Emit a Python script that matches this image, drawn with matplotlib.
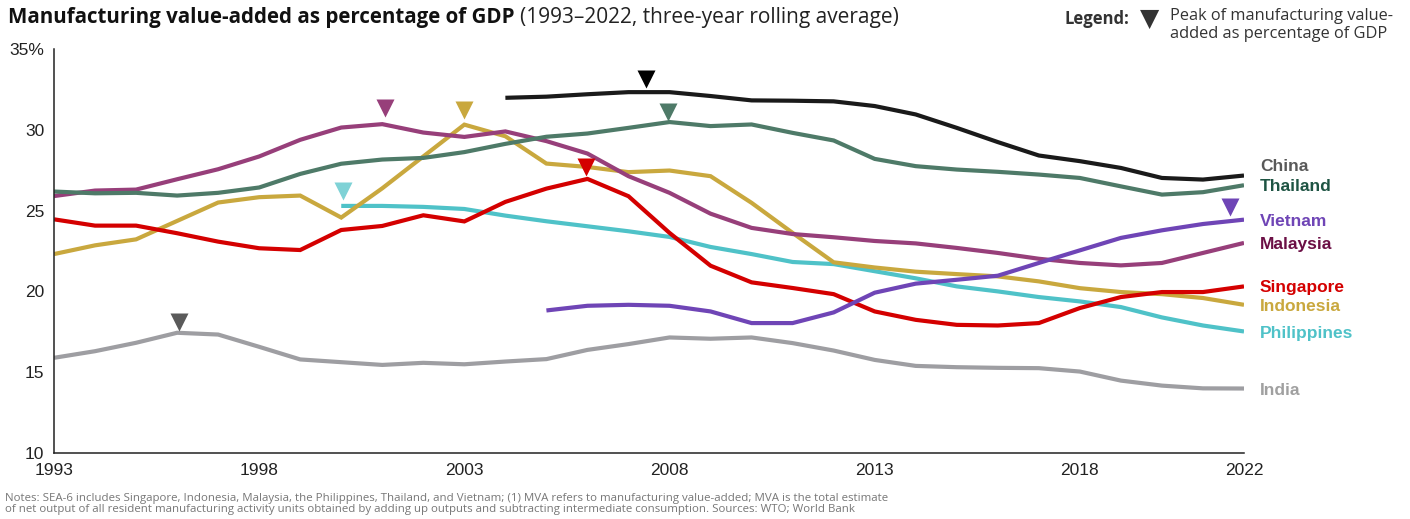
import numpy as np
import matplotlib.pyplot as plt

plt.rcParams['font.family'] = ['Liberation Sans', 'DejaVu Sans']

# data (MVA as % of GDP)
yrs_full = np.arange(1993, 2023)
yrs_china = np.arange(2004, 2023)
yrs_phil = np.arange(2000, 2023)
yrs_viet = np.arange(2005, 2023)

china = [31.98, 32.05, 32.2, 32.33, 32.33, 32.09, 31.82, 31.8, 31.76, 31.47,
         30.95, 30.12, 29.24, 28.41, 28.06, 27.64, 27.02, 26.92, 27.17]
thailand = [26.18, 26.07, 26.1, 25.93, 26.1, 26.43, 27.27, 27.9, 28.16, 28.26,
            28.62, 29.13, 29.57, 29.77, 30.12, 30.48, 30.23, 30.33, 29.81, 29.34,
            28.2, 27.75, 27.54, 27.4, 27.23, 27.02, 26.5, 25.99, 26.14, 26.57]
malaysia = [25.9, 26.24, 26.3, 26.94, 27.56, 28.35, 29.38, 30.14, 30.35, 29.83,
            29.56, 29.9, 29.3, 28.53, 27.13, 26.1, 24.81, 23.93, 23.55, 23.35,
            23.12, 22.97, 22.69, 22.38, 22.02, 21.76, 21.61, 21.76, 22.38, 23.0]
indonesia = [22.31, 22.85, 23.22, 24.36, 25.5, 25.83, 25.93, 24.57, 26.38, 28.35,
             30.32, 29.6, 27.91, 27.7, 27.38, 27.48, 27.13, 25.48, 23.62, 21.8,
             21.48, 21.22, 21.07, 20.93, 20.62, 20.2, 19.96, 19.83, 19.59, 19.17]
singapore = [24.46, 24.07, 24.07, 23.6, 23.08, 22.67, 22.56, 23.8, 24.05, 24.71,
             24.33, 25.54, 26.36, 26.96, 25.89, 23.62, 21.59, 20.56, 20.21, 19.83,
             18.76, 18.24, 17.93, 17.89, 18.04, 18.97, 19.65, 19.96, 19.96, 20.31]
philippines = [25.29, 25.29, 25.23, 25.1, 24.69, 24.34, 24.03, 23.72, 23.37, 22.75,
               22.31, 21.82, 21.69, 21.25, 20.81, 20.31, 20.0, 19.65, 19.38, 19.03,
               18.39, 17.89, 17.52]
vietnam = [18.82, 19.11, 19.17, 19.11, 18.76, 18.04, 18.04, 18.7, 19.92, 20.48,
           20.72, 20.97, 21.76, 22.54, 23.31, 23.78, 24.17, 24.44]
india = [15.89, 16.3, 16.82, 17.44, 17.33, 16.57, 15.79, 15.62, 15.45, 15.58,
         15.49, 15.66, 15.81, 16.38, 16.74, 17.15, 17.07, 17.15, 16.8, 16.34,
         15.76, 15.39, 15.31, 15.27, 15.25, 15.04, 14.48, 14.17, 14.0, 13.99]

names = ['India', 'Philippines', 'Indonesia', 'Singapore', 'Malaysia',
         'Vietnam', 'Thailand', 'China']
xs = [yrs_full, yrs_phil, yrs_full, yrs_full, yrs_full, yrs_viet, yrs_full, yrs_china]
ys = [india, philippines, indonesia, singapore, malaysia, vietnam, thailand, china]
line_colors = ['#9e9ea2', '#4fc2c8', '#c9a83e', '#d40000', '#973f7a',
               '#6f45b6', '#4e7a68', '#1a1a1a']
label_colors = ['#a0a0a0', '#4fc2c8', '#c9a83e', '#d40000', '#6b0f45',
                '#6f45b6', '#1e5443', '#595959']
label_y = [13.87, 17.4, 19.07, 20.25, 22.91, 24.34, 26.5, 27.74]

# peak markers (position of the triangle)
peak_x = [1996.05, 2000.05, 2003.0, 2005.97, 2001.06, 2021.65, 2007.96, 2007.42]
peak_y = [18.13, 26.23, 31.2, 27.7, 31.35, 25.22, 31.1, 33.17]
peak_colors = ['#5a5a5a', '#7fd2d6', '#c9a83e', '#d40000', '#973f7a',
               '#6f45b6', '#4e7a68', '#000000']

fig = plt.figure(figsize=(14.1, 5.19), dpi=100)
ax = fig.add_axes([54/1410, 66/519, 1190/1410, 404/519])

for x, y, c in zip(xs, ys, line_colors):
    ax.plot(x, y, color=c, lw=3, solid_capstyle='butt', solid_joinstyle='miter')
for px, py, c in zip(peak_x, peak_y, peak_colors):
    ax.plot(px, py, marker='v', ms=13, color=c, mec='none', clip_on=False)
for n, ly, c in zip(names, label_y, label_colors):
    ax.text(2022.39, ly, n, color=c, fontsize=12.5, fontweight='bold',
            va='center', ha='left', clip_on=False)

ax.set_xlim(1993, 2022)
ax.set_ylim(10, 35)
ax.set_xticks([1993, 1998, 2003, 2008, 2013, 2018, 2022])
ax.set_yticks([10, 15, 20, 25, 30, 35])
ax.set_yticklabels(['10', '15', '20', '25', '30', '35%'])
ax.tick_params(length=0, labelsize=12.5, colors='#222222')
ax.tick_params(axis='x', pad=7)
ax.tick_params(axis='y', pad=7)
for s in ['top', 'right']:
    ax.spines[s].set_visible(False)
for s in ['left', 'bottom']:
    ax.spines[s].set_color('#222222')
    ax.spines[s].set_linewidth(1.1)

# title
t1 = fig.text(8/1410, 1 - 18/519, 'Manufacturing value-added as percentage of GDP',
              fontsize=14.8, fontweight='bold', family='Open Sans', va='center', color='#111111')
fig.canvas.draw()
bb = t1.get_window_extent()
fig.text(bb.x1/1410 + 5/1410, 1 - 18/519, '(1993\u20132022, three-year rolling average)',
         fontsize=15, family='Open Sans', va='center', color='#222222')

# legend
fig.text(1065/1410, 1 - 19/519, 'Legend:', fontsize=12, fontweight='bold',
         family='Open Sans', va='center', color='#333333')
fig.text(1150/1410, 1 - 19/519, '\u25bc', fontsize=18, family='DejaVu Sans',
         ha='center', va='center', color='#333333')
fig.text(1170/1410, 1 - 25/519, 'Peak of manufacturing value-\nadded as percentage of GDP',
         fontsize=11.8, family='Open Sans', va='center', color='#333333', linespacing=1.15)

fig.text(5/1410, 1 - 504/519,
         'Notes: SEA-6 includes Singapore, Indonesia, Malaysia, the Philippines, Thailand, and Vietnam; '
         '(1) MVA refers to manufacturing value-added; MVA is the total estimate\n'
         'of net output of all resident manufacturing activity units obtained by adding up outputs and '
         'subtracting intermediate consumption. Sources: WTO; World Bank',
         fontsize=8.25, family='Open Sans', va='center', color='#777777', linespacing=1.0)

fig.savefig('out.png', dpi=100)
